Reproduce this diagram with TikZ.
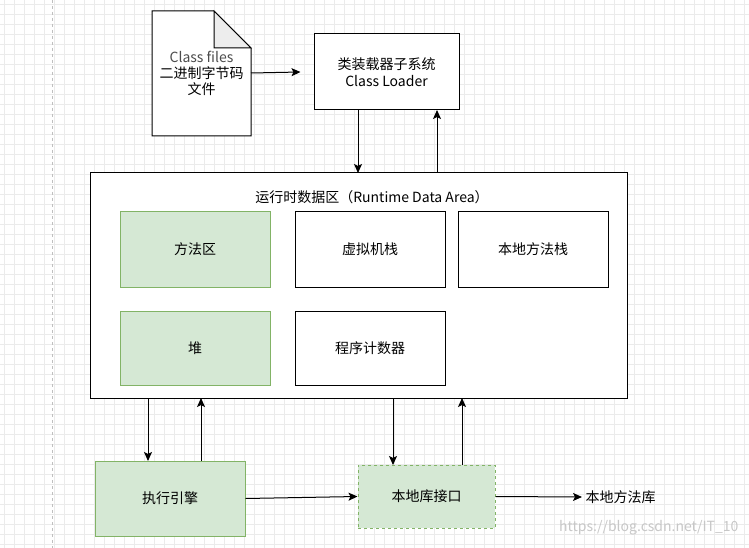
\documentclass[tikz,border=0pt]{standalone}
\usepackage{fontspec}
\setmainfont{Noto Sans CJK SC}
\usetikzlibrary{arrows.meta}
\begin{document}
\begin{tikzpicture}[x=1pt,y=-1pt,
  box/.style={draw=black,line width=1pt,fill=white,font=\fontsize{14}{17}\selectfont,align=center,inner sep=0pt},
  arr/.style={-{Stealth[length=9pt,width=8pt,inset=2pt]},line width=1pt},
  lbl/.style={font=\fontsize{14}{17}\selectfont,align=center}]
\definecolor{gfill}{HTML}{D5E8D4}\definecolor{gline}{HTML}{82B366}
\useasboundingbox (0,0) rectangle (749,548);
\fill[white] (0,0) rectangle (749,548);
\foreach \i in {0,10,...,740} \draw[black!8,line width=0.6pt] (\i+4,0) -- (\i+4,548);
\foreach \i in {0,10,...,540} \draw[black!8,line width=0.6pt] (0,\i+4) -- (749,\i+4);
\draw[black!25,dashed,line width=0.9pt] (52,0) -- (52,548);
% document shape
\draw[line width=1pt,fill=white] (152,11) -- (214,11) -- (251,48) -- (251,136) -- (152,136) -- cycle;
\draw[line width=1pt,fill=black!7] (214,11) -- (251,48) -- (214,48) -- cycle;
\node[lbl,font=\fontsize{14}{16}\selectfont] (doc) at (201.5,73) {\textcolor{black!70}{Class files}\\二进制字节码\\文件};
\coordinate (docr) at (251,73);
\node[box,minimum width=145,minimum height=76] (cl) at (386.5,72) {类装载器子系统\\Class Loader};
\node[box,minimum width=537,minimum height=225] (rt) at (358.5,285.5) {};
\node[lbl] (title) at (372,197) {运行时数据区（Runtime Data Area）};
\tikzset{gbox/.style={box,fill=gfill,draw=gline}}
\node[gbox,minimum width=150,minimum height=76] (ff) at (195,249) {方法区};
\node[box,minimum width=150,minimum height=76] (vm) at (370,249) {虚拟机栈};
\node[box,minimum width=150,minimum height=76] (nm) at (533,249) {本地方法栈};
\node[gbox,minimum width=150,minimum height=74] (heap) at (195,348) {堆};
\node[box,minimum width=150,minimum height=74] (pc) at (370,348) {程序计数器};
\node[gbox,minimum width=150,minimum height=75] (ee) at (170,498.5) {执行引擎};
\node[gbox,dashed,minimum width=137,minimum height=63] (ni) at (426.5,496.5) {本地库接口};
\node[lbl,anchor=west] (lib) at (582,497) {本地方法库};
\node[font=\fontsize{14}{17}\selectfont,text=black!22,anchor=east] (wm) at (742,528) {https://blog.csdn.net/IT\_10};
\draw[arr] (docr) -- ([xshift=-13]cl.west);
\draw[arr] (358,110) -- (358,173);
\draw[arr] (437,173) -- (437,110);
\draw[arr] (148,398) -- (148,461);
\draw[arr] (201,461) -- (201,398);
\draw[arr] (393,398) -- (393,465);
\draw[arr] (462,465) -- (462,398);
\draw[arr] (ee.east) -- (ni.west);
\draw[arr] (ni.east) -- (lib.west);
\end{tikzpicture}
\end{document}
